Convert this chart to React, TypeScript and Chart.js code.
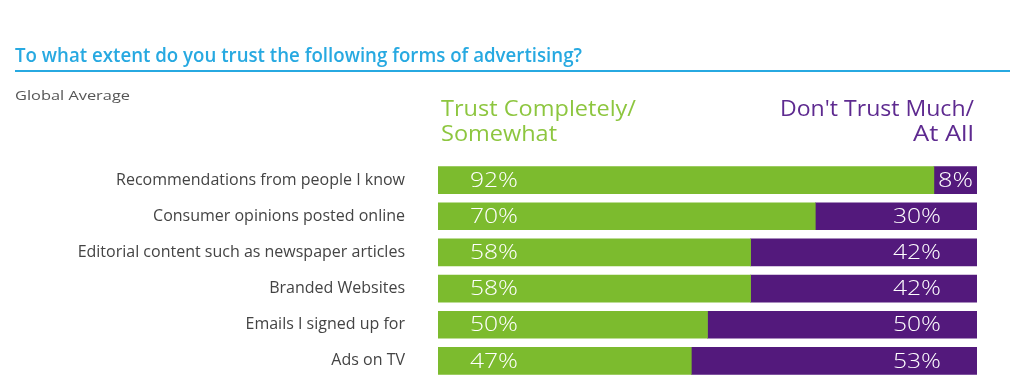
import React, { useEffect, useRef } from "react";
import { Chart, registerables } from "chart.js";

Chart.register(...registerables);

const TITLE = "To what extent do you trust the following forms of advertising?";
const SUBTITLE = "Global Average";
const categories = [
  "Recommendations from people I know",
  "Consumer opinions posted online",
  "Editorial content such as newspaper articles",
  "Branded Websites",
  "Emails I signed up for",
  "Ads on TV",
];
const trustValues = [92, 70, 58, 58, 50, 47];
const distrustValues = [8, 30, 42, 42, 50, 53];
const trustHeader = ["Trust Completely/", "Somewhat"];
const distrustHeader = ["Don't Trust Much/", "At All"];

const GREEN = "#7cbb2e";
const PURPLE = "#53197c";
const GREEN_TEXT = "#8dc63f";
const PURPLE_TEXT = "#5e2a90";
const BLUE = "#27a9e1";
const FONT = "'Open Sans', 'DejaVu Sans', sans-serif";
const AREA_TOP = 162;
const AREA_BOTTOM = 379;

function drawFitted(
  ctx: CanvasRenderingContext2D,
  text: string,
  x: number,
  y: number,
  width: number,
  align: "left" | "right" | "center"
) {
  const w = ctx.measureText(text).width;
  const s = width / w;
  ctx.save();
  ctx.textAlign = "left";
  let left = x;
  if (align === "right") left = x - width;
  else if (align === "center") left = x - width / 2;
  ctx.translate(left, y);
  ctx.scale(s, 1);
  ctx.fillText(text, 0, 0);
  ctx.restore();
}

const decorPlugin = {
  id: "decor",
  beforeDraw(chart: any) {
    const ctx: CanvasRenderingContext2D = chart.ctx;
    ctx.save();
    ctx.fillStyle = "#ffffff";
    ctx.fillRect(0, 0, chart.width, chart.height);
    ctx.textBaseline = "alphabetic";
    ctx.fillStyle = BLUE;
    ctx.font = `600 19px ${FONT}`;
    drawFitted(ctx, TITLE, 15, 62, 567, "left");
    ctx.fillStyle = BLUE;
    ctx.fillRect(15, 70, 995, 2);
    ctx.fillStyle = "#555555";
    ctx.font = `13px ${FONT}`;
    drawFitted(ctx, SUBTITLE, 15, 100, 115, "left");
    ctx.font = `21px ${FONT}`;
    ctx.fillStyle = GREEN_TEXT;
    drawFitted(ctx, trustHeader[0], 441, 116, 195, "left");
    drawFitted(ctx, trustHeader[1], 441, 141, 116, "left");
    ctx.fillStyle = PURPLE_TEXT;
    drawFitted(ctx, distrustHeader[0], 974, 116, 194, "right");
    drawFitted(ctx, distrustHeader[1], 974, 141, 61, "right");
    ctx.restore();
  },
  afterDatasetsDraw(chart: any) {
    const ctx: CanvasRenderingContext2D = chart.ctx;
    ctx.save();
    ctx.fillStyle = "#ffffff";
    ctx.font = `300 20px ${FONT}`;
    ctx.textBaseline = "middle";
    const m0 = chart.getDatasetMeta(0);
    const m1 = chart.getDatasetMeta(1);
    m0.data.forEach((el: any, i: number) => {
      const txt = `${trustValues[i]}%`;
      drawFitted(ctx, txt, el.base + 32, el.y + 1, 48, "left");
    });
    m1.data.forEach((el: any, i: number) => {
      const txt = `${distrustValues[i]}%`;
      const segW = el.x - el.base;
      const w = txt.length === 2 ? 35 : 48;
      if (segW < 80) {
        drawFitted(ctx, txt, (el.x + el.base) / 2, el.y + 1, w, "center");
      } else {
        drawFitted(ctx, txt, el.x - 36, el.y + 1, w, "right");
      }
    });
    ctx.restore();
  },
};

export default function App() {
  const ref = useRef<HTMLCanvasElement>(null);
  useEffect(() => {
    if (!ref.current) return;
    const chart: any = new Chart(ref.current, {
      type: "bar",
      data: {
        labels: categories,
        datasets: [
          {
            label: trustHeader.join(" "),
            data: trustValues,
            backgroundColor: GREEN,
            barThickness: 27,
          },
          {
            label: distrustHeader.join(" "),
            data: distrustValues,
            backgroundColor: PURPLE,
            barThickness: 27,
          },
        ],
      },
      options: {
        indexAxis: "y",
        responsive: false,
        animation: false,
        layout: { padding: { top: AREA_TOP, bottom: 25, left: 0, right: 47 } },
        plugins: {
          legend: { display: false },
          tooltip: { enabled: false },
          title: { display: false },
        },
        scales: {
          x: {
            stacked: true,
            min: 0,
            max: 100,
            display: false,
          },
          y: {
            stacked: true,
            grid: { display: false },
            border: { display: false },
            ticks: {
              color: "#444444",
              font: { family: FONT, size: 16 },
              padding: 25,
            },
            afterFit(scale: any) {
              scale.width = 438;
            },
          },
        },
      },
      plugins: [decorPlugin],
    } as any);
    // settle the plot area so rows sit where the reference puts them
    for (let k = 0; k < 4; k++) {
      const a = chart.chartArea;
      const dTop = a.top - AREA_TOP;
      const dBottom = a.bottom - AREA_BOTTOM;
      if (Math.abs(dTop) < 0.3 && Math.abs(dBottom) < 0.3) break;
      const p = chart.options.layout.padding;
      p.top = Math.max(0, p.top - dTop);
      p.bottom = Math.max(0, p.bottom + dBottom);
      chart.update("none");
    }
    return () => chart.destroy();
  }, []);
  return (
    <div
      style={{
        position: "fixed",
        left: 0,
        top: 0,
        width: 1024,
        height: 377,
        overflow: "hidden",
        background: "#fff",
      }}
    >
      <canvas ref={ref} width={1024} height={420} style={{ display: "block", width: 1024, height: 420 }} />
    </div>
  );
}
